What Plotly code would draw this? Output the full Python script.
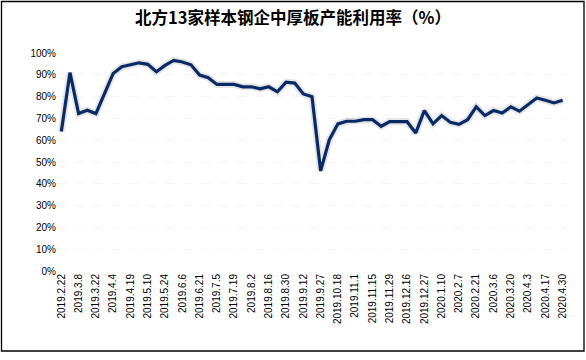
import plotly.graph_objects as go

dates = [
    "2019.2.22", "2019.3.1", "2019.3.8", "2019.3.15", "2019.3.22", "2019.3.29",
    "2019.4.4", "2019.4.12", "2019.4.19", "2019.4.26", "2019.5.10", "2019.5.17",
    "2019.5.24", "2019.5.31", "2019.6.6", "2019.6.14", "2019.6.21", "2019.6.28",
    "2019.7.5", "2019.7.12", "2019.7.19", "2019.7.26", "2019.8.2", "2019.8.9",
    "2019.8.16", "2019.8.23", "2019.8.30", "2019.9.6", "2019.9.12", "2019.9.20",
    "2019.9.27", "2019.10.11", "2019.10.18", "2019.10.25", "2019.11.1", "2019.11.8",
    "2019.11.15", "2019.11.22", "2019.11.29", "2019.12.6", "2019.12.16", "2019.12.20",
    "2019.12.27", "2020.1.3", "2020.1.10", "2020.1.17", "2020.2.7", "2020.2.14",
    "2020.2.21", "2020.2.28", "2020.3.6", "2020.3.13", "2020.3.20", "2020.3.27",
    "2020.4.3", "2020.4.10", "2020.4.17", "2020.4.24", "2020.4.30",
]

utilization = [
    64.0, 91.0, 72.2, 73.7, 72.2, 81.7, 90.6, 93.7, 94.6, 95.5,
    94.8, 91.4, 94.3, 96.6, 95.9, 94.6, 89.9, 88.7, 85.6, 85.6,
    85.6, 84.5, 84.5, 83.6, 84.5, 82.2, 86.6, 86.2, 81.2, 79.9,
    45.9, 60.2, 67.5, 68.7, 68.7, 69.4, 69.4, 66.4, 68.5, 68.5,
    68.5, 63.3, 73.6, 67.5, 71.3, 68.2, 67.3, 69.4, 75.3, 71.3,
    73.6, 72.5, 75.3, 73.3, 76.4, 79.4, 78.3, 77.1, 78.3,
]

tick_labels = dates[::2]
y_ticks = list(range(0, 101, 10))

title_text = "北方13家样本钢企中厚板产能利用率（%）"

W, H = 586, 360
L, R, T, B = 57, 19, 53, 89

fig = go.Figure()
# soft shadow under the line
fig.add_trace(go.Scatter(
    x=dates, y=utilization, mode="lines",
    line=dict(color="rgba(0,0,0,0.10)", width=7),
    hoverinfo="skip", showlegend=False,
))
fig.add_trace(go.Scatter(
    x=dates, y=utilization, mode="lines",
    line=dict(color="#0a2a66", width=3.2),
    showlegend=False,
))

def px_to_paper_x(px):
    return (px - L) / (W - L - R)

def px_to_paper_y(py):
    return 1 - (py - T) / (H - T - B)

fig.add_shape(
    type="rect", xref="paper", yref="paper",
    x0=px_to_paper_x(1.5), x1=px_to_paper_x(584),
    y0=px_to_paper_y(351), y1=px_to_paper_y(1.5),
    line=dict(color="black", width=1.3), fillcolor="rgba(0,0,0,0)",
    layer="above",
)

fig.update_layout(
    width=W, height=H,
    margin=dict(l=L, r=R, t=T, b=B),
    paper_bgcolor="white", plot_bgcolor="white",
    title=dict(
        text=title_text, x=0.5, xref="container", xanchor="center",
        y=1 - 18 / H, yref="container", yanchor="middle",
        font=dict(family="Noto Sans CJK SC", size=16.5, color="black", weight="bold"),
    ),
    font=dict(family="Liberation Sans", size=10, color="black"),
    xaxis=dict(
        type="category", range=[-0.5, len(dates) - 0.5],
        tickmode="array", tickvals=tick_labels, ticktext=tick_labels,
        tickangle=-90, showgrid=False, zeroline=False, showline=False,
        ticks="", ticklen=0, tickfont=dict(size=10),
    ),
    yaxis=dict(
        range=[0, 100], tickmode="array", tickvals=y_ticks,
        ticktext=[f"{v}%" for v in y_ticks],
        showgrid=True, gridcolor="rgba(0,0,0,0.04)", griddash="dash",
        zeroline=False, showline=False, ticks="", tickfont=dict(size=10),
    ),
)

fig.write_html(
    "out.html",
    config={"displayModeBar": False},
    post_script="document.body.style.margin='0';document.body.style.padding='0';",
)
